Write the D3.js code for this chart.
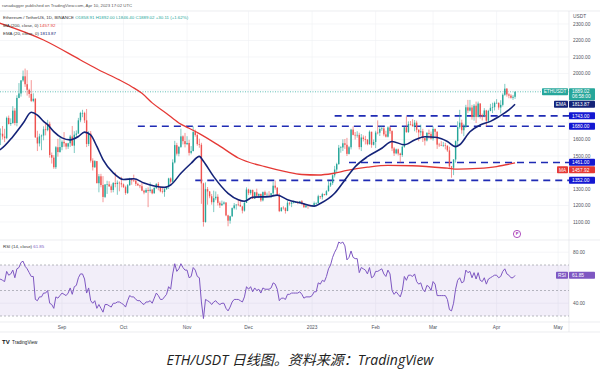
<!DOCTYPE html>
<html>
<head>
<meta charset="utf-8">
<script src="https://cdn.jsdelivr.net/npm/d3@7"></script>
<style>
  body { margin: 0; background: #fff; }
  svg { display: block; font-family: Arial, "Liberation Sans", sans-serif; }
</style>
</head>
<body>
<script>
// daily candles [open, high, low, close], starting 2022-08-01
var firstDay = [2022, 7, 1];
var candles = [
  // Aug 2022
  [1678,1697,1610,1632],[1632,1667,1566,1635],[1635,1682,1600,1618],[1618,1665,1584,1608],
  [1608,1739,1602,1731],[1731,1745,1691,1694],[1694,1728,1683,1700],[1700,1802,1695,1775],
  [1775,1790,1686,1700],[1700,1868,1680,1852],[1852,1942,1850,1879],[1879,1960,1860,1958],
  [1958,2018,1950,1983],[1983,2030,1919,1935],[1935,2020,1866,1901],[1901,1908,1853,1876],
  [1876,1960,1827,1834],[1834,1880,1826,1847],[1847,1850,1610,1613],[1613,1653,1530,1576],
  [1576,1635,1558,1619],[1619,1630,1535,1624],[1624,1680,1595,1662],[1662,1703,1625,1657],
  [1657,1719,1650,1695],[1695,1708,1490,1506],[1506,1521,1454,1490],[1490,1505,1422,1432],
  [1432,1560,1421,1553],[1553,1604,1496,1524],[1524,1613,1520,1554],
  // Sep
  [1554,1595,1535,1586],[1586,1645,1556,1577],[1577,1580,1540,1557],[1557,1580,1543,1577],
  [1577,1628,1555,1618],[1618,1682,1560,1563],[1563,1650,1518,1629],[1629,1655,1613,1636],
  [1636,1731,1634,1716],[1716,1768,1705,1761],[1761,1780,1735,1761],[1761,1768,1700,1716],
  [1716,1785,1554,1573],[1573,1650,1560,1636],[1636,1651,1460,1472],[1472,1486,1412,1432],
  [1432,1475,1427,1469],[1469,1470,1335,1335],[1335,1391,1280,1377],[1377,1392,1310,1324],
  [1324,1378,1220,1252],[1252,1330,1245,1327],[1327,1350,1270,1328],[1328,1347,1313,1316],
  [1316,1328,1278,1294],[1294,1342,1280,1336],[1336,1400,1310,1330],[1330,1352,1265,1338],
  [1338,1346,1286,1335],[1335,1374,1310,1328],
  // Oct
  [1328,1333,1307,1311],[1311,1320,1265,1276],[1276,1330,1270,1323],[1323,1368,1320,1362],
  [1362,1365,1326,1352],[1352,1387,1342,1351],[1351,1360,1318,1331],[1331,1338,1318,1322],
  [1322,1326,1305,1317],[1317,1338,1287,1290],[1290,1295,1268,1279],[1279,1305,1277,1294],
  [1294,1310,1190,1288],[1288,1340,1278,1296],[1296,1300,1268,1274],[1274,1312,1272,1306],
  [1306,1335,1300,1331],[1331,1342,1292,1311],[1311,1314,1280,1286],[1286,1311,1273,1282],
  [1282,1303,1253,1299],[1299,1316,1295,1313],[1313,1368,1300,1364],[1364,1370,1333,1344],
  [1344,1480,1336,1461],[1461,1592,1455,1566],[1566,1580,1503,1514],[1514,1560,1498,1555],
  [1555,1665,1549,1619],[1619,1625,1570,1590],[1590,1640,1552,1572],
  // Nov
  [1572,1620,1566,1579],[1579,1598,1503,1519],[1519,1560,1510,1530],[1530,1680,1528,1645],
  [1645,1660,1617,1627],[1627,1638,1562,1572],[1572,1605,1550,1568],[1568,1580,1210,1334],
  [1334,1338,1072,1100],[1100,1340,1096,1299],[1299,1312,1205,1285],[1285,1288,1244,1256],
  [1256,1270,1205,1220],[1220,1290,1160,1244],[1244,1285,1232,1253],[1253,1268,1200,1216],
  [1216,1225,1185,1201],[1201,1230,1198,1211],[1211,1225,1205,1218],[1218,1220,1135,1140],
  [1140,1144,1074,1108],[1108,1138,1090,1135],[1135,1188,1130,1184],[1184,1215,1176,1201],
  [1201,1206,1175,1206],[1206,1238,1196,1204],[1204,1230,1194,1194],[1194,1198,1152,1169],
  [1169,1230,1163,1216],[1216,1310,1215,1297],
  // Dec
  [1297,1302,1263,1275],[1275,1297,1265,1294],[1294,1297,1240,1241],[1241,1283,1240,1280],
  [1280,1302,1255,1259],[1259,1273,1245,1270],[1270,1272,1222,1231],[1231,1285,1225,1281],
  [1281,1290,1258,1264],[1264,1278,1260,1265],[1265,1287,1261,1264],[1264,1276,1245,1274],
  [1274,1345,1258,1320],[1320,1352,1296,1308],[1308,1311,1260,1265],[1265,1274,1160,1166],
  [1166,1190,1163,1187],[1187,1196,1175,1184],[1184,1190,1151,1167],[1167,1228,1165,1217],
  [1217,1220,1200,1211],[1211,1222,1190,1218],[1218,1230,1212,1219],[1219,1224,1215,1220],
  [1220,1225,1208,1218],[1218,1228,1211,1226],[1226,1233,1202,1212],[1212,1215,1185,1190],
  [1190,1205,1185,1200],[1200,1202,1180,1199],[1199,1206,1194,1196],
  // Jan 2023
  [1196,1204,1191,1200],[1200,1224,1194,1214],[1214,1219,1205,1214],[1214,1265,1210,1256],
  [1256,1258,1240,1251],[1251,1277,1236,1269],[1269,1271,1260,1264],[1264,1293,1260,1287],
  [1287,1350,1284,1321],[1321,1346,1312,1336],[1336,1389,1325,1383],[1383,1440,1370,1418],
  [1418,1459,1397,1451],[1451,1567,1447,1550],[1550,1560,1520,1552],[1552,1601,1530,1577],
  [1577,1603,1543,1568],[1568,1610,1500,1513],[1513,1561,1509,1553],[1553,1665,1540,1660],
  [1660,1679,1625,1628],[1628,1645,1600,1627],[1627,1650,1611,1628],[1628,1641,1540,1554],
  [1554,1633,1530,1612],[1612,1625,1588,1603],[1603,1622,1570,1598],[1598,1603,1565,1572],
  [1572,1655,1568,1647],[1647,1647,1550,1568],[1568,1600,1564,1585],
  // Feb
  [1585,1653,1548,1642],[1642,1716,1631,1641],[1641,1680,1621,1664],[1664,1680,1652,1667],
  [1667,1675,1620,1631],[1631,1653,1612,1617],[1617,1680,1612,1673],[1673,1679,1635,1651],
  [1651,1656,1530,1546],[1546,1555,1500,1516],[1516,1545,1510,1540],[1540,1545,1503,1515],
  [1515,1520,1460,1506],[1506,1565,1495,1556],[1556,1680,1550,1674],[1674,1740,1640,1645],
  [1645,1710,1640,1694],[1694,1712,1685,1691],[1691,1723,1677,1681],[1681,1718,1650,1702],
  [1702,1714,1642,1659],[1659,1662,1590,1643],[1643,1690,1623,1650],[1650,1665,1585,1608],
  [1608,1610,1564,1594],[1594,1645,1588,1640],[1640,1660,1605,1634],[1634,1648,1600,1605],
  // Mar
  [1605,1680,1593,1664],[1664,1666,1615,1647],[1647,1650,1543,1569],[1569,1580,1555,1567],
  [1567,1590,1560,1564],[1564,1585,1555,1565],[1565,1580,1540,1562],[1562,1565,1525,1534],
  [1534,1556,1426,1437],[1437,1440,1368,1429],[1429,1480,1384,1479],[1479,1595,1460,1590],
  [1590,1710,1565,1675],[1675,1780,1665,1702],[1702,1720,1635,1656],[1656,1695,1620,1677],
  [1677,1810,1670,1795],[1795,1840,1760,1775],[1775,1840,1770,1794],[1794,1810,1720,1736],
  [1736,1815,1714,1805],[1805,1830,1700,1737],[1737,1830,1734,1818],[1818,1820,1727,1748],
  [1748,1757,1715,1741],[1741,1790,1735,1776],[1776,1780,1680,1714],[1714,1780,1700,1773],
  [1773,1816,1771,1792],[1792,1823,1760,1796],[1796,1830,1776,1822],
  // Apr
  [1822,1845,1818,1822],[1822,1825,1780,1794],[1794,1838,1758,1810],[1810,1880,1800,1871],
  [1871,1937,1865,1908],[1908,1912,1860,1873],[1873,1880,1850,1866],[1866,1875,1848,1853],
  [1853,1870,1840,1858.91],[1858.91,1892,1846.4,1889.02]
];

// RSI(14) daily, same days as candles
var rsiValues = [
  57,59,58,57,65,62,63,66,60,67,68,72,73,69,67,64,61,61,43,42,45,45,48,48,50,40,39,36,45,44,46,
  48,47,46,48,52,47,53,54,60,63,63,59,48,52,42,40,42,36,39,36,33,39,39,38,37,40,40,41,41,40,
  39,37,42,46,45,45,43,42,42,40,39,41,41,42,40,44,48,46,43,43,45,47,53,51,63,71,65,67,71,68,66,
  66,60,61,68,66,61,60,41,28,43,42,41,39,41,42,40,39,40,40,36,34,37,41,43,43,43,42,41,45,53,
  51,53,49,52,50,51,48,52,51,51,51,52,56,55,51,42,44,44,43,47,47,48,48,48,48,49,47,44,45,45,45,
  46,49,49,56,55,58,57,61,67,70,76,80,83,88,87,88,85,74,76,81,76,75,75,64,68,67,66,63,68,60,61,
  65,65,66,67,63,61,66,63,50,47,49,47,45,50,61,58,62,62,61,63,57,55,56,51,49,54,53,50,
  57,55,46,46,46,46,46,43,35,34,40,51,58,60,56,57,66,64,65,60,64,59,64,58,57,60,55,59,60,61,62,
  62,60,61,65,67,63,62,60,60,61.85
];

// moving averages [date, value]
var ma200Points = [
  ["2022-07-31", 2312], ["2022-08-23", 2203], ["2022-09-10", 2082], ["2022-09-19", 2021],
  ["2022-09-29", 1961], ["2022-10-05", 1920], ["2022-10-10", 1880], ["2022-10-15", 1822],
  ["2022-10-22", 1758], ["2022-10-28", 1700], ["2022-11-02", 1668], ["2022-11-07", 1636],
  ["2022-11-17", 1560], ["2022-11-26", 1488], ["2022-12-09", 1435], ["2022-12-19", 1405],
  ["2022-12-27", 1388], ["2023-01-04", 1385], ["2023-01-11", 1394], ["2023-01-18", 1413],
  ["2023-01-28", 1432], ["2023-02-07", 1443], ["2023-02-19", 1441], ["2023-03-08", 1426],
  ["2023-03-13", 1420], ["2023-03-23", 1425], ["2023-04-01", 1436], ["2023-04-10", 1457.92]
];
var ema20Points = [
  ["2022-07-31", 1528], ["2022-08-02", 1540], ["2022-08-08", 1617], ["2022-08-13", 1698],
  ["2022-08-17", 1765], ["2022-08-20", 1748], ["2022-08-23", 1710], ["2022-08-25", 1690],
  ["2022-08-28", 1648], ["2022-09-01", 1610], ["2022-09-05", 1598], ["2022-09-09", 1618],
  ["2022-09-12", 1645], ["2022-09-15", 1627], ["2022-09-18", 1558], ["2022-09-21", 1478],
  ["2022-09-26", 1398], ["2022-10-01", 1358], ["2022-10-06", 1362], ["2022-10-11", 1336],
  ["2022-10-16", 1318], ["2022-10-21", 1310], ["2022-10-24", 1324], ["2022-10-29", 1395],
  ["2022-11-03", 1456], ["2022-11-07", 1498], ["2022-11-09", 1468], ["2022-11-14", 1375],
  ["2022-11-21", 1274], ["2022-11-26", 1235], ["2022-11-29", 1226], ["2022-12-03", 1250],
  ["2022-12-11", 1254], ["2022-12-15", 1263], ["2022-12-20", 1235], ["2022-12-27", 1214],
  ["2023-01-02", 1196], ["2023-01-05", 1212], ["2023-01-12", 1274], ["2023-01-17", 1355],
  ["2023-01-22", 1435], ["2023-01-28", 1496], ["2023-02-04", 1547], ["2023-02-09", 1588],
  ["2023-02-15", 1568], ["2023-02-20", 1597], ["2023-02-25", 1617], ["2023-03-03", 1612],
  ["2023-03-08", 1588], ["2023-03-12", 1557], ["2023-03-14", 1568], ["2023-03-19", 1647],
  ["2023-03-24", 1688], ["2023-03-29", 1710], ["2023-04-02", 1738], ["2023-04-07", 1779],
  ["2023-04-10", 1813.87]
];

// horizontal levels drawn by the author
var levels = [
  { price: 1743, from: "2023-01-12" },
  { price: 1680, from: "2022-10-08" },
  { price: 1461, from: "2023-01-19" },
  { price: 1352, from: "2022-11-05" }
];

var priceTicks = [1100, 1200, 1300, 1400, 1500, 1600, 1700, 1800, 1900, 2000, 2100, 2200, 2300];
var rsiTicks = [40, 80];
var monthTicks = [
  ["2022-09-01", "Sep"], ["2022-10-01", "Oct"], ["2022-11-01", "Nov"], ["2022-12-01", "Dec"],
  ["2023-01-01", "2023"], ["2023-02-01", "Feb"], ["2023-03-01", "Mar"], ["2023-04-01", "Apr"],
  ["2023-05-01", "May"]
];

var lastClose = 1889.02, lastEma = 1813.87, lastMa = 1457.92, lastRsi = 61.85;

var W = 600, H = 370;
var axisX = 569;
var mainTop = 11, mainBottom = 240, rsiBottom = 322, timeBottom = 332;
var up = "#26a69a", down = "#ef5350";
var levelColor = "#1f2bb4", boxBlue = "#1418d2";

var parse = d3.utcParse("%Y-%m-%d");
function dayDate(i) { return new Date(Date.UTC(firstDay[0], firstDay[1], firstDay[2] + i)); }

var svg = d3.select("body").append("svg")
  .attr("width", W)
  .attr("height", H);

var x = d3.scaleUtc()
  .domain([parse("2022-09-01"), parse("2023-04-01")])
  .range([62, 496.6]);
var y = d3.scaleLinear().domain([1100, 2300]).range([222, 24]);
var yr = d3.scaleLinear().domain([30, 70]).range([316, 265]);

var defs = svg.append("defs");
defs.append("clipPath").attr("id", "clipMain")
  .append("rect").attr("x", 0).attr("y", mainTop).attr("width", axisX).attr("height", mainBottom - mainTop);
defs.append("clipPath").attr("id", "clipRsi")
  .append("rect").attr("x", 0).attr("y", mainBottom).attr("width", axisX).attr("height", rsiBottom - mainBottom);

// header
svg.append("text").attr("x", 2).attr("y", 7)
  .attr("font-size", 4.3).attr("fill", "#555")
  .text("ranadagger published on TradingView.com, Apr 10, 2023 17:02 UTC");

// frame lines
var frame = svg.append("g").attr("stroke", "#dfe1e6").attr("stroke-width", 0.6);
frame.append("line").attr("x1", 0).attr("x2", W).attr("y1", mainTop).attr("y2", mainTop);
frame.append("line").attr("x1", 0).attr("x2", W).attr("y1", mainBottom).attr("y2", mainBottom);
frame.append("line").attr("x1", 0).attr("x2", W).attr("y1", rsiBottom).attr("y2", rsiBottom);
frame.append("line").attr("x1", 0).attr("x2", W).attr("y1", timeBottom).attr("y2", timeBottom);
frame.append("line").attr("x1", axisX).attr("x2", axisX).attr("y1", mainTop).attr("y2", timeBottom);

// grid
var grid = svg.append("g").attr("stroke", "#eef0f4").attr("stroke-width", 0.6);
grid.selectAll(".hg").data(priceTicks).enter().append("line")
  .attr("x1", 0).attr("x2", axisX)
  .attr("y1", function(d) { return y(d); }).attr("y2", function(d) { return y(d); });
grid.selectAll(".rg").data(rsiTicks).enter().append("line")
  .attr("x1", 0).attr("x2", axisX)
  .attr("y1", function(d) { return yr(d); }).attr("y2", function(d) { return yr(d); });
grid.selectAll(".vg").data(monthTicks).enter().append("line")
  .attr("x1", function(d) { return x(parse(d[0])); }).attr("x2", function(d) { return x(parse(d[0])); })
  .attr("y1", mainTop).attr("y2", rsiBottom);

// main pane
var main = svg.append("g").attr("clip-path", "url(#clipMain)");

// last price dotted line
main.append("line")
  .attr("x1", 0).attr("x2", axisX)
  .attr("y1", y(lastClose)).attr("y2", y(lastClose))
  .attr("stroke", up).attr("stroke-width", 0.7).attr("stroke-dasharray", "1,1.5");

// levels
main.selectAll(".lvl").data(levels).enter().append("line")
  .attr("x1", function(d) { return x(parse(d.from)); })
  .attr("x2", axisX)
  .attr("y1", function(d) { return y(d.price); })
  .attr("y2", function(d) { return y(d.price); })
  .attr("stroke", levelColor).attr("stroke-width", 1.6).attr("stroke-dasharray", "7,5");

// candles
var cg = main.append("g");
var cand = cg.selectAll("g").data(candles).enter().append("g");
cand.append("line")
  .attr("x1", function(d, i) { return x(dayDate(i)); })
  .attr("x2", function(d, i) { return x(dayDate(i)); })
  .attr("y1", function(d) { return y(d[1]); })
  .attr("y2", function(d) { return y(d[2]); })
  .attr("stroke", function(d) { return d[3] >= d[0] ? up : down; })
  .attr("stroke-width", 0.6);
cand.append("rect")
  .attr("x", function(d, i) { return x(dayDate(i)) - 0.7; })
  .attr("width", 1.4)
  .attr("y", function(d) { return y(Math.max(d[0], d[3])); })
  .attr("height", function(d) { return Math.max(0.6, Math.abs(y(d[0]) - y(d[3]))); })
  .attr("fill", function(d) { return d[3] >= d[0] ? up : down; });

var line = d3.line()
  .x(function(d) { return x(parse(d[0])); })
  .y(function(d) { return y(d[1]); })
  .curve(d3.curveMonotoneX);

main.append("path").datum(ma200Points)
  .attr("d", line).attr("fill", "none")
  .attr("stroke", "#e53935").attr("stroke-width", 1.3);
main.append("path").datum(ema20Points)
  .attr("d", line).attr("fill", "none")
  .attr("stroke", "#142378").attr("stroke-width", 1.6);

// event marker
var ev = svg.append("g").attr("transform", "translate(517,234)");
ev.append("circle").attr("r", 3.6).attr("fill", "#fff").attr("stroke", "#9c27b0").attr("stroke-width", 0.8);
ev.append("text").attr("text-anchor", "middle").attr("dy", "0.35em")
  .attr("font-size", 4).attr("fill", "#9c27b0").attr("font-weight", "bold").text("P");

// legend
var leg = svg.append("g").attr("font-size", 4.4);
var l1 = leg.append("text").attr("x", 3).attr("y", 19).attr("fill", "#333");
l1.append("tspan").text("Ethereum / TetherUS, 1D, BINANCE ");
l1.append("tspan").attr("fill", up)
  .text(" O1858.91  H1892.00  L1846.40  C1889.02  +30.11 (+1.62%)");
var l2 = leg.append("text").attr("x", 3).attr("y", 27).attr("fill", "#333");
l2.append("tspan").text("MA (200, close, 0)  ");
l2.append("tspan").attr("fill", "#e53935").text(d3.format(".2f")(lastMa));
var l3 = leg.append("text").attr("x", 3).attr("y", 34.5).attr("fill", "#333");
l3.append("tspan").text("EMA (20, close, 0)  ");
l3.append("tspan").attr("fill", "#142378").text(d3.format(".2f")(lastEma));

// RSI pane
var rp = svg.append("g").attr("clip-path", "url(#clipRsi)");
rp.append("rect")
  .attr("x", 0).attr("width", axisX)
  .attr("y", yr(70)).attr("height", yr(30) - yr(70))
  .attr("fill", "#7e57c2").attr("fill-opacity", 0.1);
rp.selectAll(".rl").data([70, 50, 30]).enter().append("line")
  .attr("x1", 0).attr("x2", axisX)
  .attr("y1", function(d) { return yr(d); }).attr("y2", function(d) { return yr(d); })
  .attr("stroke", "#8a8d96").attr("stroke-width", 0.6).attr("stroke-dasharray", "2,2");
rp.append("path").datum(rsiValues)
  .attr("d", d3.line()
    .x(function(d, i) { return x(dayDate(i)); })
    .y(function(d) { return yr(d); }))
  .attr("fill", "none").attr("stroke", "#7e57c2").attr("stroke-width", 1);

var rl = svg.append("text").attr("x", 3).attr("y", 248).attr("font-size", 4.4).attr("fill", "#333");
rl.append("tspan").text("RSI (14, close)  ");
rl.append("tspan").attr("fill", "#7e57c2").text(d3.format(".2f")(lastRsi));

// right-side value boxes (positions worked out first so tick labels can dodge them)
var boxes = [
  { y: y(lastClose), h: 12, color: up, text: d3.format(".2f")(lastClose), sub: "06:58:00", tag: "ETHUSDT", tagW: 26 },
  { y: y(lastEma), h: 7, color: "#142378", text: d3.format(".2f")(lastEma), tag: "EMA", tagW: 14 }
];
levels.forEach(function(l) {
  boxes.push({ y: y(l.price), h: 7, color: boxBlue, text: d3.format(".2f")(l.price) });
});
boxes.push({ y: y(lastMa), h: 7, color: "#e53935", text: d3.format(".2f")(lastMa), tag: "MA", tagW: 11 });
boxes.sort(function(a, b) { return a.y - b.y; });
var prevBottom = -1e9;
boxes.forEach(function(b) {
  b.top = b.y - 3.6;
  if (b.top < prevBottom + 0.5) b.top = prevBottom + 0.5;
  prevBottom = b.top + b.h;
});
boxes.push({ y: yr(lastRsi), top: yr(lastRsi) - 3.6, h: 7, color: "#7e57c2", text: d3.format(".2f")(lastRsi), tag: "RSI", tagW: 12 });

function hitsBox(py) {
  return boxes.some(function(b) { return py > b.top - 2.4 && py < b.top + b.h + 2.4; });
}

// price axis labels
var ax = svg.append("g").attr("font-size", 4.8).attr("fill", "#50535e");
ax.append("text").attr("x", 573).attr("y", 18).text("USDT");
ax.selectAll(".pt").data(priceTicks.filter(function(d) { return !hitsBox(y(d)); })).enter().append("text")
  .attr("x", 573).attr("y", function(d) { return y(d); }).attr("dy", "0.35em")
  .text(function(d) { return d3.format(".2f")(d); });
ax.selectAll(".rt").data(rsiTicks).enter().append("text")
  .attr("x", 573).attr("y", function(d) { return yr(d); }).attr("dy", "0.35em")
  .text(function(d) { return d3.format(".2f")(d); });

// time axis
svg.append("g").attr("font-size", 4.8).attr("fill", "#50535e").attr("text-anchor", "middle")
  .selectAll("text").data(monthTicks).enter().append("text")
  .attr("x", function(d) { return x(parse(d[0])); })
  .attr("y", 329)
  .text(function(d) { return d[1]; });

var bg = svg.append("g").attr("font-size", 4.8);
boxes.forEach(function(b) {
  bg.append("rect").attr("x", axisX).attr("y", b.top).attr("width", 26).attr("height", b.h)
    .attr("fill", b.color).attr("rx", 0.8);
  bg.append("text").attr("x", axisX + 3).attr("y", b.top + 3.6).attr("dy", "0.35em")
    .attr("fill", "#fff").text(b.text);
  if (b.sub) {
    bg.append("text").attr("x", axisX + 3).attr("y", b.top + 8.6).attr("dy", "0.35em")
      .attr("fill", "#fff").text(b.sub);
  }
  if (b.tag) {
    bg.append("rect").attr("x", axisX - 1 - b.tagW).attr("y", b.top).attr("width", b.tagW).attr("height", 7)
      .attr("fill", b.color).attr("rx", 0.8);
    bg.append("text").attr("x", axisX - 1 - b.tagW / 2).attr("y", b.top + 3.6).attr("dy", "0.35em")
      .attr("text-anchor", "middle").attr("fill", "#fff").text(b.tag);
  }
});

// logo
var logo = svg.append("g").attr("transform", "translate(2,340)");
logo.append("text").attr("y", 3.5).attr("font-size", 6).attr("font-weight", "bold").attr("fill", "#131722").text("TV");
logo.append("text").attr("x", 10).attr("y", 3.5).attr("font-size", 4.6).attr("fill", "#131722").text("TradingView");

// caption
svg.append("text")
  .attr("x", 300).attr("y", 365)
  .attr("text-anchor", "middle")
  .attr("font-family", "'Open Sans', 'Noto Sans CJK SC', sans-serif")
  .attr("font-style", "italic")
  .attr("font-size", 14)
  .attr("fill", "#222")
  .text("ETH/USDT 日线图。资料来源：TradingView");
</script>
</body>
</html>
